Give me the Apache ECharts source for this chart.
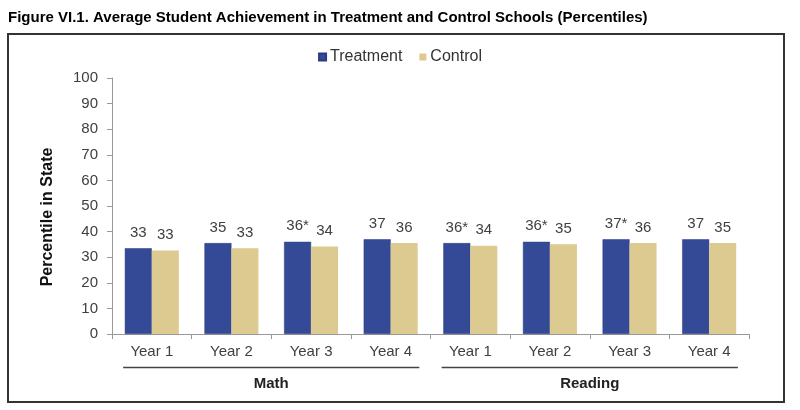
<!DOCTYPE html>
<html>
<head>
<meta charset="utf-8">
<script src="https://cdn.jsdelivr.net/npm/echarts@6/dist/echarts.min.js"></script>
<style>
html,body{margin:0;padding:0;background:#fff;}
#chart{width:800px;height:410px;}
</style>
</head>
<body>
<div id="chart"></div>
<script>
const categories = ['Year 1','Year 2','Year 3','Year 4','Year 1','Year 2','Year 3','Year 4'];
const groups = ['Math','Reading'];
const treatment = [33.5, 35.5, 36.0, 37.0, 35.5, 36.0, 37.0, 37.0];
const control = [32.6, 33.5, 34.2, 35.5, 34.5, 35.1, 35.5, 35.5];
const treatmentLabels = ['33','35','36*','37','36*','36*','37*','37'];
const controlLabels = ['33','33','34','36','34','35','36','35'];
const yTicks = [0,10,20,30,40,50,60,70,80,90,100];

const FONT = '"Liberation Sans", Arial, sans-serif';
const chart = echarts.init(document.getElementById('chart'));
const option = {
  animation: false,
  textStyle: {fontFamily: FONT},
  title: {
    text: 'Figure VI.1. Average Student Achievement in Treatment and Control Schools (Percentiles)',
    left: 8, top: 10, padding: 0,
    textStyle: {fontFamily: FONT, fontSize: 15, fontWeight: 'bold', color: '#000'}
  },
  legend: {
    data: ['Treatment','Control'],
    top: 49, left: 'center', padding: 0,
    icon: 'rect', itemWidth: 7, itemHeight: 7, itemGap: 17,
    textStyle: {fontFamily: FONT, fontSize: 16, color: '#333', padding: [0,0,0,-1]}
  },
  grid: {left: 112, right: 51, top: 78, bottom: 76, containLabel: false},
  xAxis: [{
    type: 'category', data: categories,
    axisLine: {lineStyle: {color: '#999', width: 1}},
    axisTick: {show: true, length: 5, lineStyle: {color: '#999'}},
    axisLabel: {fontFamily: FONT, fontSize: 15, color: '#404040', margin: 10}
  }, {
    type: 'category', data: groups, position: 'bottom', offset: 42,
    axisLine: {show: false}, axisTick: {show: false},
    axisLabel: {fontFamily: FONT, fontSize: 15, fontWeight: 'bold', color: '#222', margin: 0}
  }],
  yAxis: {
    type: 'value', min: 0, max: 100, interval: 10,
    axisLine: {show: true, lineStyle: {color: '#999'}},
    axisTick: {show: true, length: 5, lineStyle: {color: '#999'}},
    splitLine: {show: false},
    axisLabel: {fontFamily: FONT, fontSize: 15, color: '#404040', margin: 14,
      formatter: function (v) { return yTicks.indexOf(v) >= 0 ? String(v) : ''; }},
    name: 'Percentile in State', nameLocation: 'middle', nameGap: 56,
    nameTextStyle: {fontFamily: FONT, fontSize: 16, fontWeight: 'bold', color: '#111', padding: [0, 22, 0, 0]}
  },
  series: [{
    name: 'Treatment', type: 'bar', data: treatment, barWidth: 27, barGap: '0%',
    itemStyle: {color: '#344A96', borderColor: '#2A3D80', borderWidth: 0.5},
    label: {show: true, position: 'top', distance: 8, fontFamily: FONT, fontSize: 15, color: '#404040',
      formatter: function (p) { return treatmentLabels[p.dataIndex]; }}
  }, {
    name: 'Control', type: 'bar', data: control, barWidth: 27,
    itemStyle: {color: '#DDCA91'},
    label: {show: true, position: 'top', distance: 8, fontFamily: FONT, fontSize: 15, color: '#404040',
      formatter: function (p) { return controlLabels[p.dataIndex]; }}
  }]
};
chart.setOption(option);

// group underline lines and frame, positioned through the axis scale
const x0 = chart.convertToPixel({xAxisIndex: 0}, 0);
const x1 = chart.convertToPixel({xAxisIndex: 0}, 1);
const band = x1 - x0;
const yLine = chart.convertToPixel({yAxisIndex: 0}, 0) + 33.5;
function seg(a, b) {
  return {type: 'line', shape: {x1: chart.convertToPixel({xAxisIndex: 0}, a) - 0.36 * band, y1: yLine,
    x2: chart.convertToPixel({xAxisIndex: 0}, b) + 0.36 * band, y2: yLine},
    style: {stroke: '#444', lineWidth: 1.5}};
}
chart.setOption({
  graphic: [
    seg(0, 3), seg(4, 7),
    {type: 'rect', shape: {x: 8, y: 34, width: 776, height: 368}, style: {fill: 'none', stroke: '#333', lineWidth: 2}, z: -1}
  ]
});
</script>
</body>
</html>
